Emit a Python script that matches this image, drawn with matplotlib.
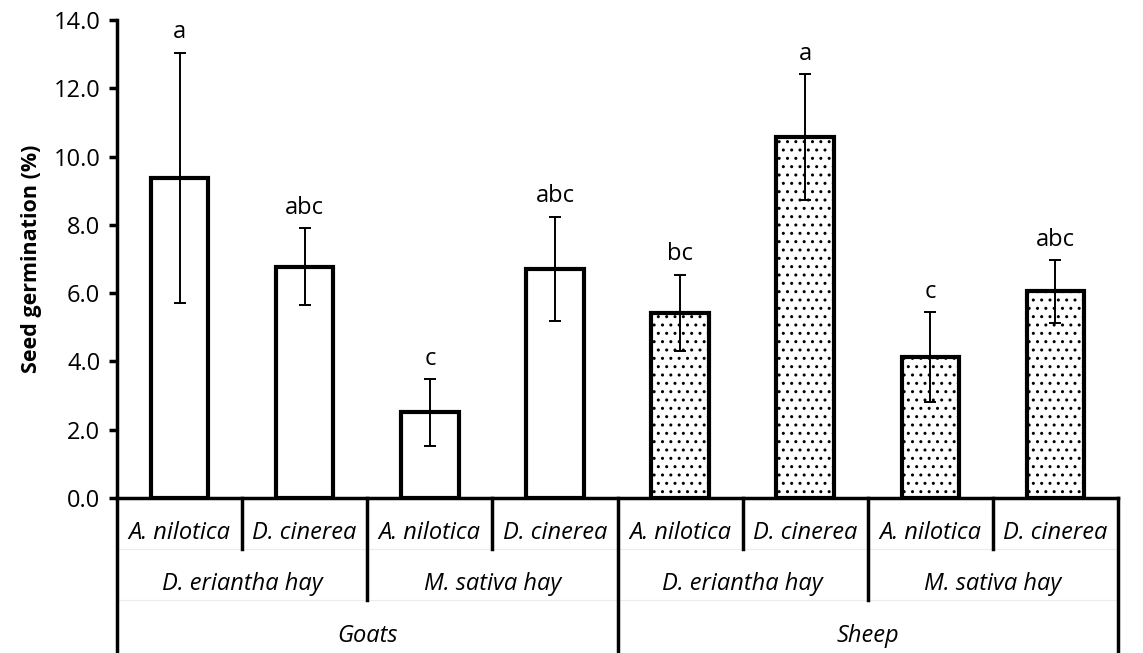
import matplotlib
matplotlib.use("Agg")
import matplotlib.pyplot as plt
import matplotlib.transforms as mtransforms
import numpy as np

plt.rcParams['font.family'] = ['Open Sans', 'DejaVu Sans']
plt.rcParams['hatch.color'] = '#777777'
plt.rcParams['hatch.linewidth'] = 1.0

# data
species = ["A. nilotica", "D. cinerea"] * 4
hays = ["D. eriantha hay", "M. sativa hay", "D. eriantha hay", "M. sativa hay"]
animals = ["Goats", "Sheep"]
germination = [9.38, 6.78, 2.51, 6.71, 5.42, 10.58, 4.13, 6.05]
sem = [3.66, 1.13, 0.98, 1.53, 1.12, 1.84, 1.31, 0.91]
letters = ["a", "abc", "c", "abc", "bc", "a", "c", "abc"]

W, H = 1143, 653
fig = plt.figure(figsize=(W / 100, H / 100), dpi=100)
ax_left, ax_right, ax_bot, ax_top = 117, 1118, 498, 20
ax = fig.add_axes([ax_left / W, 1 - ax_bot / H, (ax_right - ax_left) / W, (ax_bot - ax_top) / H])

FS = 17

x = np.arange(len(germination))
for i in range(len(x)):
    hatch = '..' if i >= 4 else None
    ax.bar(x[i], germination[i], width=0.46, color='white', edgecolor='black',
           linewidth=3, hatch=hatch, zorder=2)
ax.errorbar(x, germination, yerr=sem, fmt='none', ecolor='black', elinewidth=1.4,
            capsize=4.5, capthick=1.4, zorder=3)
for i in range(len(x)):
    ax.annotate(letters[i], (x[i], germination[i] + sem[i]), xytext=(0, 6),
                textcoords='offset points', ha='center', va='bottom', fontsize=FS)

ax.set_xlim(-0.5, 7.5)
ax.set_ylim(0, 14)
ax.set_yticks(np.arange(0, 14.1, 2))
ax.set_yticklabels(["%.1f" % v for v in np.arange(0, 14.1, 2)], fontsize=FS)
ax.set_xticks([])
ax.tick_params(axis='y', direction='out', length=6, width=2.5, pad=6)
ax.set_ylabel("Seed germination (%)", fontsize=15.5, fontweight='bold', labelpad=8)
for s in ['top', 'right']:
    ax.spines[s].set_visible(False)
ax.spines['left'].set_linewidth(2.5)
ax.spines['bottom'].set_linewidth(2.5)

# multi-level category axis below the plot
tr = mtransforms.blended_transform_factory(ax.transData, ax.transAxes)
def ya(py):
    return -(py - ax_bot) / (ax_bot - ax_top)

lvl1, lvl2, lvl3 = 549, 600, 653
for xb in [0.5, 2.5, 4.5, 6.5]:
    ax.plot([xb, xb], [0, ya(lvl1)], transform=tr, color='black', lw=2.5, clip_on=False)
for xb in [1.5, 5.5]:
    ax.plot([xb, xb], [0, ya(lvl2)], transform=tr, color='black', lw=2.5, clip_on=False)
for xb in [-0.5, 3.5, 7.5]:
    ax.plot([xb, xb], [0, ya(lvl3)], transform=tr, color='black', lw=2.5, clip_on=False)
for yy in [lvl1, lvl2]:
    ax.plot([-0.5, 7.5], [ya(yy), ya(yy)], transform=tr, color='#ececec', lw=0.8,
            clip_on=False, zorder=0)

for i, name in enumerate(species):
    ax.text(x[i], ya(533), name, transform=tr, ha='center', va='center',
            fontsize=FS, style='italic')
for j, name in enumerate(hays):
    ax.text(2 * j + 0.5, ya(584), name, transform=tr, ha='center', va='center',
            fontsize=FS, style='italic')
for k, name in enumerate(animals):
    ax.text(4 * k + 1.5, ya(636), name, transform=tr, ha='center', va='center',
            fontsize=FS, style='italic')

fig.savefig("out.png", dpi=100)
